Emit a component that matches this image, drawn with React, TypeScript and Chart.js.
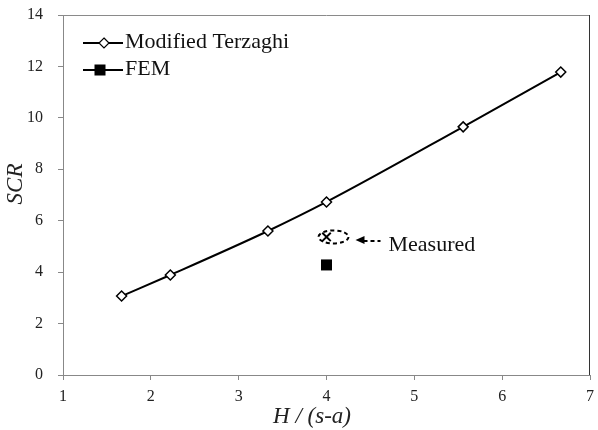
import React, { useEffect, useRef } from "react";
import { Chart, registerables } from "chart.js";

Chart.register(...registerables);

const xValues = [1.667, 2.222, 3.333, 4, 5.556, 6.667];
const terzaghiValues = [3.07, 3.89, 5.6, 6.73, 9.65, 11.78];
const femX = [4];
const femValues = [4.28];
const measuredX = [4];
const measuredValues = [5.37];
const xTicks = [1, 2, 3, 4, 5, 6, 7];
const yTicks = [0, 2, 4, 6, 8, 10, 12, 14];
const seriesNames = ["Modified Terzaghi", "FEM", "Measured"];
const xTitle = "H / (s-a)";
const yTitle = "SCR";

const SERIF = "'Liberation Serif', 'DejaVu Serif', serif";

const decorPlugin = {
  id: "decor",
  afterDraw(chart: any) {
    const ctx = chart.ctx as CanvasRenderingContext2D;
    const a = chart.chartArea;
    const xs = chart.scales.x;
    const ys = chart.scales.y;
    ctx.save();
    // top and right border
    ctx.lineWidth = 1;
    ctx.strokeStyle = "#8a8a8a";
    ctx.beginPath();
    ctx.moveTo(a.left, a.top + 0.5);
    ctx.lineTo(a.right, a.top + 0.5);
    ctx.stroke();
    ctx.strokeStyle = "#333";
    ctx.beginPath();
    ctx.moveTo(a.right - 0.5, a.top);
    ctx.lineTo(a.right - 0.5, a.bottom);
    ctx.stroke();

    // axis titles
    ctx.fillStyle = "#222";
    ctx.font = `italic 23px ${SERIF}`;
    ctx.textAlign = "center";
    ctx.textBaseline = "middle";
    ctx.fillText(xTitle, 312, 417);
    ctx.save();
    ctx.translate(16, 184);
    ctx.rotate(-Math.PI / 2);
    ctx.fillText(yTitle, 0, 0);
    ctx.restore();

    // legend
    const legendItems = [
      { name: seriesNames[0], y: 43, kind: "diamond" },
      { name: seriesNames[1], y: 70, kind: "square" },
    ];
    legendItems.forEach((it) => {
      ctx.strokeStyle = "#000";
      ctx.lineWidth = 2;
      ctx.beginPath();
      ctx.moveTo(83, it.y);
      ctx.lineTo(123, it.y);
      ctx.stroke();
      if (it.kind === "diamond") {
        ctx.beginPath();
        const cx = 104, cy = it.y, r = 5;
        ctx.moveTo(cx, cy - r);
        ctx.lineTo(cx + r, cy);
        ctx.lineTo(cx, cy + r);
        ctx.lineTo(cx - r, cy);
        ctx.closePath();
        ctx.fillStyle = "#fff";
        ctx.fill();
        ctx.lineWidth = 1.2;
        ctx.stroke();
      } else {
        ctx.fillStyle = "#000";
        ctx.fillRect(100 - 5.5, it.y - 5.5, 11, 11);
      }
      ctx.fillStyle = "#111";
      ctx.font = `22px ${SERIF}`;
      ctx.textAlign = "left";
      ctx.textBaseline = "middle";
      ctx.fillText(it.name, 125, it.y - 1);
    });

    // measured annotation
    const px = xs.getPixelForValue(measuredX[0]);
    const py = ys.getPixelForValue(measuredValues[0]);
    ctx.strokeStyle = "#000";
    ctx.lineWidth = 2;
    ctx.setLineDash([4, 3]);
    ctx.beginPath();
    ctx.ellipse(px + 7, py, 15, 6.5, 0, 0, Math.PI * 2);
    ctx.stroke();
    ctx.beginPath();
    ctx.moveTo(px + 37, py + 4);
    ctx.lineTo(px + 54, py + 4);
    ctx.stroke();
    ctx.setLineDash([]);
    ctx.fillStyle = "#000";
    ctx.beginPath();
    ctx.moveTo(px + 29, py + 3);
    ctx.lineTo(px + 38, py - 1);
    ctx.lineTo(px + 38, py + 7);
    ctx.closePath();
    ctx.fill();
    ctx.fillStyle = "#111";
    ctx.font = `22px ${SERIF}`;
    ctx.textAlign = "left";
    ctx.textBaseline = "middle";
    ctx.fillText(seriesNames[2], px + 62, py + 8);
    ctx.restore();
  },
};

export default function App() {
  const ref = useRef<HTMLCanvasElement | null>(null);
  useEffect(() => {
    document.body.style.margin = "0";
    if (!ref.current) return;
    const chart = new Chart(ref.current, {
      type: "scatter",
      data: {
        datasets: [
          {
            label: seriesNames[0],
            data: xValues.map((x, i) => ({ x, y: terzaghiValues[i] })),
            showLine: true,
            borderColor: "#000",
            borderWidth: 2,
            tension: 0.4,
            cubicInterpolationMode: "monotone",
            pointStyle: "rectRot",
            pointRadius: 5,
            pointBackgroundColor: "#fff",
            pointBorderColor: "#000",
            pointBorderWidth: 1.5,
          },
          {
            label: seriesNames[1],
            data: femX.map((x, i) => ({ x, y: femValues[i] })),
            showLine: false,
            pointStyle: "rect",
            pointRadius: 7.8,
            pointBackgroundColor: "#000",
            pointBorderColor: "#000",
            pointBorderWidth: 0,
          },
          {
            label: seriesNames[2],
            data: measuredX.map((x, i) => ({ x, y: measuredValues[i] })),
            showLine: false,
            pointStyle: "crossRot",
            pointRadius: 6,
            pointBorderColor: "#000",
            pointBorderWidth: 2,
          },
        ],
      } as any,
      options: {
        responsive: false,
        animation: false,
        layout: { padding: { top: 15, right: 0, left: 0, bottom: 0 } },
        plugins: { legend: { display: false }, tooltip: { enabled: false } },
        scales: {
          x: {
            type: "linear",
            min: 1,
            max: 7,
            afterBuildTicks: (s: any) => {
              s.ticks = xTicks.map((v) => ({ value: v }));
            },
            afterFit: (s: any) => {
              s.height = 55;
              s.paddingLeft = 0;
              s.paddingRight = 0;
            },
            grid: { drawOnChartArea: false, tickLength: 5, color: "#888" },
            border: { color: "#888", width: 1 },
            ticks: {
              color: "#222",
              font: { family: SERIF, size: 16 },
              padding: 7,
              maxRotation: 0,
            },
          },
          y: {
            type: "linear",
            min: 0,
            max: 14,
            afterBuildTicks: (s: any) => {
              s.ticks = yTicks.map((v) => ({ value: v }));
            },
            afterFit: (s: any) => {
              s.width = 63;
              s.paddingTop = 0;
              s.paddingBottom = 0;
            },
            grid: { drawOnChartArea: false, tickLength: 5, color: "#888" },
            border: { color: "#888", width: 1 },
            ticks: {
              color: "#222",
              font: { family: SERIF, size: 16 },
              padding: 15,
            },
          },
        },
      } as any,
      plugins: [decorPlugin],
    });
    return () => chart.destroy();
  }, []);
  return (
    <div style={{ width: 598, height: 430 }}>
      <canvas ref={ref} width={598} height={430} style={{ width: 598, height: 430 }} />
    </div>
  );
}
